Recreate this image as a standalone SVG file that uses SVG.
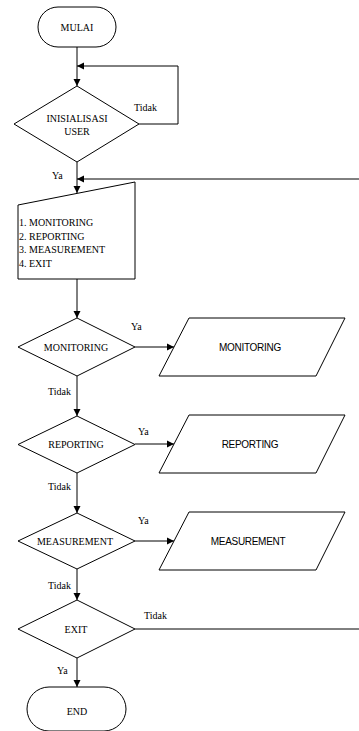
<svg xmlns="http://www.w3.org/2000/svg" width="359" height="731" viewBox="0 0 359 731">
<defs>
<marker id="ah" markerWidth="8" markerHeight="8" refX="7" refY="4" orient="auto" markerUnits="userSpaceOnUse">
<path d="M0,0.5 L7,4 L0,7.5 Z" fill="#000"/>
</marker>
</defs>
<style>
.s{fill:#fff;stroke:#000;stroke-width:1}
.c{fill:none;stroke:#000;stroke-width:1}
.t{font-family:"Liberation Serif",serif;font-size:10px;fill:#000}
.a{font-family:"Liberation Sans",sans-serif;font-size:10px;fill:#000;letter-spacing:-0.3px}
.m{text-anchor:middle}
</style>
<rect width="359" height="731" fill="#fff"/>
<g id="connectors">
<path class="c" d="M77,47 L77,86" marker-end="url(#ah)"/>
<path class="c" d="M139,124 L178,124 L178,66 L77,66" marker-end="url(#ah)"/>
<path class="c" d="M77,162 L77,193" marker-end="url(#ah)"/>
<path class="c" d="M360,179 L77,179" marker-end="url(#ah)"/>
<path class="c" d="M77,279 L77,318" marker-end="url(#ah)"/>
<path class="c" d="M135,347 L174,347" marker-end="url(#ah)"/>
<path class="c" d="M77,376 L77,416" marker-end="url(#ah)"/>
<path class="c" d="M135,444 L174,444" marker-end="url(#ah)"/>
<path class="c" d="M77,473 L77,513" marker-end="url(#ah)"/>
<path class="c" d="M135,541 L174,541" marker-end="url(#ah)"/>
<path class="c" d="M77,569 L77,600" marker-end="url(#ah)"/>
<path class="c" d="M135,629 L360,629"/>
<path class="c" d="M77,658 L77,687" marker-end="url(#ah)"/>
<text class="t" x="134" y="111">Tidak</text>
<text class="t" x="52" y="179">Ya</text>
<text class="t" x="131" y="330">Ya</text>
<text class="t" x="48" y="395">Tidak</text>
<text class="t" x="138" y="435">Ya</text>
<text class="t" x="48" y="490">Tidak</text>
<text class="t" x="138" y="524">Ya</text>
<text class="t" x="48" y="589">Tidak</text>
<text class="t" x="144" y="619">Tidak</text>
<text class="t" x="57" y="674">Ya</text>
</g>
<g id="mulai">
<rect class="s" x="38" y="7" width="78" height="40" rx="20" ry="20"/>
<text class="t m" x="77" y="30.5">MULAI</text>
</g>
<g id="inisialisasi">
<polygon class="s" points="77,86 139,124 77,162 14,124"/>
<text class="t m" x="77" y="122">INISIALISASI</text>
<text class="t m" x="77" y="135">USER</text>
</g>
<g id="menu">
<polygon class="s" points="18,205 135,182 135,279 18,279"/>
<text class="t" x="19" y="226">1. MONITORING</text>
<text class="t" x="19" y="239.5">2. REPORTING</text>
<text class="t" x="19" y="253">3. MEASUREMENT</text>
<text class="t" x="19" y="266.5">4. EXIT</text>
</g>
<g id="dec-monitoring">
<polygon class="s" points="77,318 135,347 77,376 18,347"/>
<text class="t m" x="76" y="350.5">MONITORING</text>
</g>
<g id="io-monitoring">
<polygon class="s" points="189,318 345,318 316,376 159,376"/>
<text class="a m" x="250" y="350.5">MONITORING</text>
</g>
<g id="dec-reporting">
<polygon class="s" points="77,416 135,444.5 77,473 18,444.5"/>
<text class="t m" x="76" y="448">REPORTING</text>
</g>
<g id="io-reporting">
<polygon class="s" points="189,415 345,415 316,473 159,473"/>
<text class="a m" x="250" y="447.5">REPORTING</text>
</g>
<g id="dec-measurement">
<polygon class="s" points="77,513 135,541 77,569 18,541"/>
<text class="t m" x="75" y="544.5">MEASUREMENT</text>
</g>
<g id="io-measurement">
<polygon class="s" points="189,512 345,512 316,570 159,570"/>
<text class="a m" x="248" y="544.5">MEASUREMENT</text>
</g>
<g id="dec-exit">
<polygon class="s" points="77,600 135,629 77,658 18,629"/>
<text class="t m" x="76" y="632.5">EXIT</text>
</g>
<g id="end">
<rect class="s" x="27" y="687" width="99" height="44" rx="22" ry="22"/>
<text class="t m" x="77" y="715">END</text>
</g>
</svg>
